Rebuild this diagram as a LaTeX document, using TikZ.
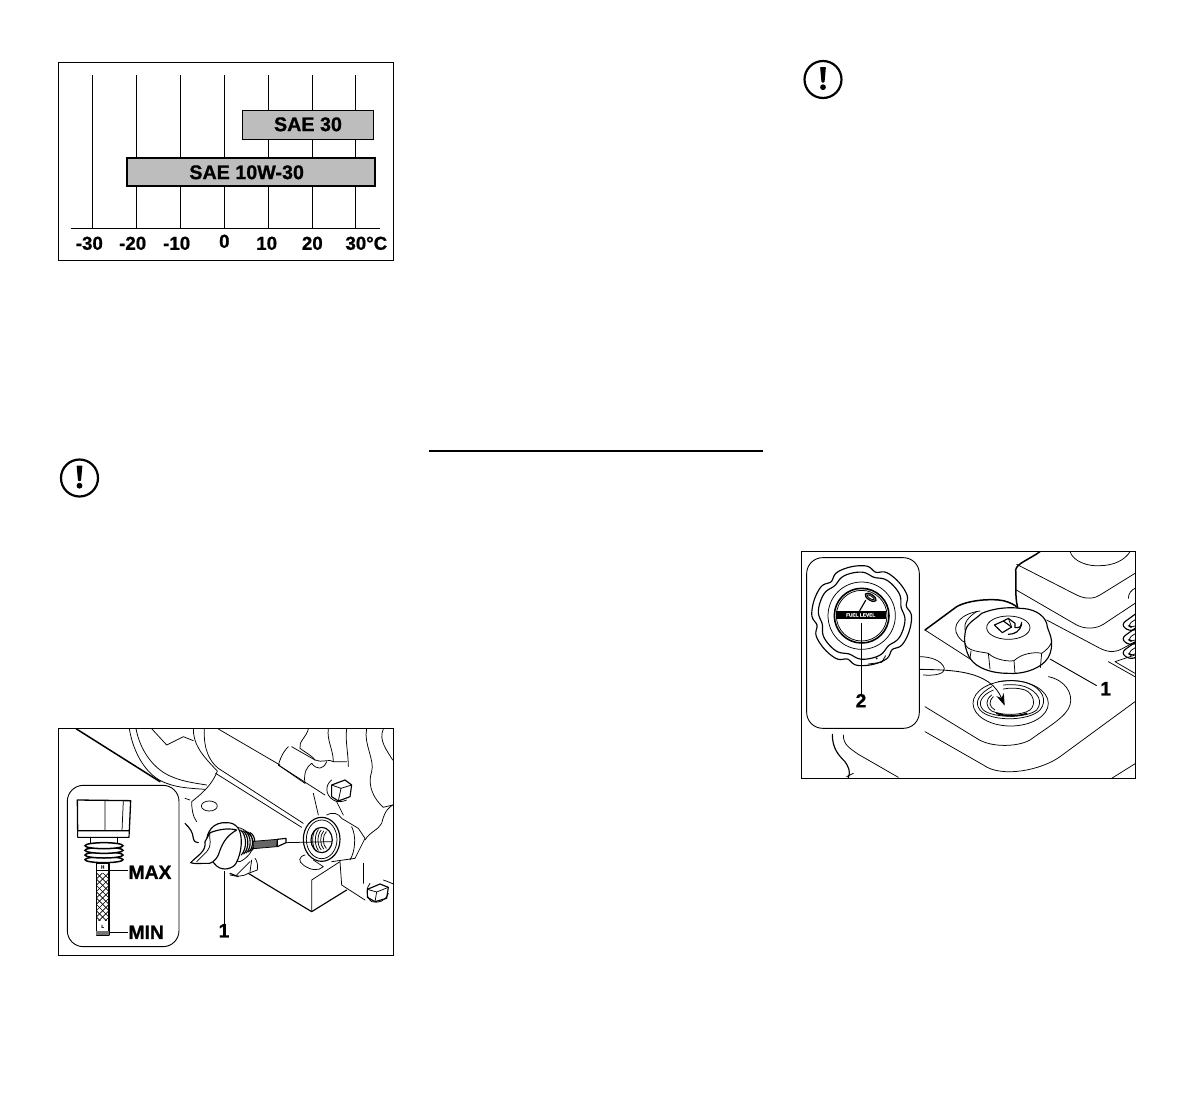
\documentclass[tikz,border=0pt]{standalone}
\usepackage{fontspec}
\setmainfont{Liberation Sans}[BoldFeatures={FakeBold=0.9}]
\usetikzlibrary{arrows.meta}
\definecolor{bargrey}{gray}{0.74}
\tikzset{
  frame/.style={draw=black,line width=1pt,fill=none},
  grid/.style={line width=1pt},
  bar/.style={draw=black,fill=bargrey,line width=1.5pt},
  barb/.style={draw=black,fill=bargrey,line width=1.9pt},
  lab/.style={font=\fontsize{18.7}{20}\selectfont\bfseries,inner sep=0pt},
  barlab/.style={font=\fontsize{19.7}{21}\selectfont\bfseries,inner sep=0pt},
  calllab/.style={font=\fontsize{19.3}{20}\selectfont\bfseries,inner sep=0pt},
  fine/.style={line width=0.75pt,line cap=round,line join=round},
  med/.style={line width=1.15pt,line cap=round,line join=round},
  heavy/.style={line width=1.8pt,line cap=round,line join=round},
  leader/.style={line width=0.9pt},
  inset/.style={draw=black,fill=white,line width=0.9pt,rounded corners=16pt},
}
\newcommand{\warnicon}[2]{%
  \draw[line width=2.2pt] (#1,#2) circle [radius=18.5];
  \fill[rounded corners=0.8pt] (#1-2.9,#2-12.5) -- (#1+2.9,#2-12.5) -- (#1+1.5,#2+3) -- (#1-1.5,#2+3) -- cycle;
  \fill (#1,#2+7.7) circle [radius=2.9];
}
\begin{document}
\begin{tikzpicture}[x=1pt,y=-1pt]
\useasboundingbox (0,0) rectangle (1192,1106);
\fill[white] (0,0) rectangle (1192,1106);

% ---------- chart ----------
\begin{scope}[shift={(50,55)},x=0.33333pt,y=-0.33333pt]
  \foreach \gx in {127,259,391,523,655,787,916} \draw[grid] (\gx,60) -- (\gx,520);
  \draw[grid] (62,520) -- (990,520);
  \draw[bar] (578,167) rectangle (970,253);
  \draw[barb] (231,309) rectangle (975,394);
  \node[barlab] (sae30) at (774,208) {SAE 30};
  \node[barlab] (sae10) at (590,352) {SAE 10W-30};
  \node[lab] (tm30) at (118,565) {-30};
  \node[lab] (tm20) at (248,565) {-20};
  \node[lab] (tm10) at (380,565) {-10};
  \node[lab] (t0) at (523,559) {0};
  \node[lab] (t10) at (650,565) {10};
  \node[lab] (t20) at (787,565) {20};
  \node[lab] (t30) at (949,565) {30°C};
  \draw[frame] (25,22) rectangle (1030,615);
\end{scope}

% ---------- warning icons and rule ----------
\warnicon{79.5}{478}
\warnicon{823}{79.5}
\draw[line width=1.9pt] (429,451) -- (763,451);

% ---------- oil figure ----------
\begin{scope}[shift={(50,720)},x=0.33333pt,y=-0.33333pt]
  \begin{scope}
  \clip (25,26) rectangle (1030,706);
  \draw[heavy,line width=1.5pt] (78,26) -- (330,185);
  % housing arcs
  \draw[fine] (238,26) .. controls (250,100) and (290,170) .. (350,190) .. controls (390,205) and (430,205) .. (465,208);
  \draw[fine] (258,26) .. controls (270,90) and (310,150) .. (370,172) .. controls (400,185) and (440,190) .. (470,195);
  \draw[fine] (305,26) -- (350,75) -- (400,50) -- (430,62);
  \draw[fine] (430,26) .. controls (430,70) and (450,100) .. (502,153) .. controls (490,185) and (470,210) .. (425,245) .. controls (425,265) and (428,290) .. (440,305);
  \draw[fine] (405,235) -- (420,240);
  \draw[fine] (463,27) .. controls (460,90) and (480,125) .. (505,145) -- (760,310);
  \draw[fine] (497,160) -- (755,322);
  \draw[fine] (505,27) -- (690,135);
  \draw[fine] (478,258) ellipse [x radius=24,y radius=15];
  \draw[med] (405,310) .. controls (420,325) and (428,335) .. (430,355) .. controls (432,365) and (438,368) .. (445,368);
  % tube
  \draw[fine] (715,80) .. controls (695,100) and (690,120) .. (685,135) -- (765,190);
  \draw[fine] (725,80) -- (795,120) .. controls (815,130) and (840,115) .. (850,125);
  \draw[fine] (685,135) -- (825,225);
  \draw[fine] (765,190) .. controls (760,160) and (770,140) .. (785,130) .. controls (800,150) and (820,150) .. (830,125);
  \draw[fine] (775,27) .. controls (770,50) and (745,65) .. (750,85) .. controls (770,100) and (790,110) .. (795,120);
  \draw[fine] (835,27) .. controls (830,60) and (850,90) .. (850,125) -- (890,125);
  \draw[fine] (890,27) .. controls (885,60) and (895,100) .. (895,140);
  \draw[fine] (790,220) -- (805,285);
  \draw[fine] (860,245) -- (880,285);
  % bolt upper
  \draw[fine] (845,180) .. controls (825,195) and (825,225) .. (850,240) .. controls (860,248) and (880,245) .. (890,240);
  \draw[med] (845,195) -- (885,180) -- (905,195) -- (900,230) -- (865,243) -- (845,230) -- cycle;
  \draw[fine] (845,195) -- (873,205) -- (905,195) (873,205) -- (865,243);
  % right wavy
  \draw[fine] (950,27) .. controls (940,70) and (975,120) .. (965,155) .. controls (950,200) and (975,240) .. (1000,262) -- (1028,255);
  \draw[fine] (1000,27) .. controls (985,60) and (1010,90) .. (1028,120);
  \draw[fine] (1028,255) .. controls (1005,270) and (1000,290) .. (995,310) .. controls (985,330) and (960,335) .. (945,360);
  % boss
  \draw[fine] (830,285) .. controls (850,275) and (865,280) .. (875,295) -- (925,325) -- (945,355) -- (915,415) -- (845,425);
  \draw[fine] (905,320) .. controls (920,350) and (915,395) .. (900,420);
  \draw[med,fill=white] (815,358) ellipse [x radius=55,y radius=66];
  \draw[fine] (815,358) ellipse [x radius=46,y radius=58];
  \draw[med] (815,360) ellipse [x radius=32,y radius=38];
  \foreach \k in {0,1,2,3,4} \draw[fine] (797+\k*8,327+\k*2) .. controls (785+\k*8,345) and (785+\k*8,375) .. (797+\k*8,393-\k*2);
  % axis and stem
  \draw[fine] (706,368) -- (845,365);
  \draw[fine] (765,405) .. controls (745,410) and (745,425) .. (760,435) .. controls (780,450) and (805,455) .. (820,440) -- (790,420);
  % plug
  \draw[fill=white,fine] (555,322) .. controls (575,320) and (605,340) .. (610,365) .. controls (612,385) and (600,410) .. (570,425) -- (545,420) -- (545,330) -- cycle;
  \foreach \k in {0,1,2,3,4} \draw[med] (572+\k*7,330+\k*2) .. controls (590+\k*7,345) and (592+\k*7,385) .. (574+\k*7,405-\k*3);
  \draw[fill=black!60,fine] (610,364) -- (682,358) -- (680,380) -- (610,386) -- cycle;
  \draw[fill=white,med] (682,358) -- (708,355) -- (708,368) -- (682,380) -- cycle;
  \draw[med,fill=white] (530,308) .. controls (490,305) and (468,335) .. (470,370) .. controls (470,390) and (480,420) .. (500,438) .. controls (520,455) and (550,445) .. (558,430) .. controls (575,400) and (580,350) .. (565,325) .. controls (555,312) and (545,308) .. (530,308) -- cycle;
  \draw[med,fill=white] (480,338) .. controls (515,325) and (540,325) .. (560,330) .. controls (525,350) and (515,375) .. (505,405) .. controls (495,425) and (480,433) .. (470,430) .. controls (450,430) and (430,432) .. (422,428) .. controls (440,408) and (470,395) .. (465,365) -- (480,338);
  \draw[fine] (480,338) .. controls (475,360) and (490,370) .. (470,395) .. controls (455,410) and (445,420) .. (440,425);
  % lower body
  \draw[med] (595,460) -- (785,575) -- (890,510);
  \draw[fine] (785,575) -- (785,480) -- (870,425);
  \draw[fine] (870,425) -- (875,495) -- (945,540);
  \draw[fine] (940,430) -- (940,490);
  \draw[fine] (540,465) .. controls (560,470) and (580,470) .. (595,460) -- (622,450) .. controls (625,435) and (620,420) .. (615,415);
  \draw[fine] (560,465) -- (600,425) (600,455) -- (605,420);
  \draw[med] (540,460) -- (565,470);
  % bolt lower
  \draw[fine] (960,490) .. controls (950,500) and (945,530) .. (965,545) .. controls (985,550) and (1005,545) .. (1015,520);
  \draw[med] (952,508) -- (990,492) -- (1015,502) -- (1010,535) -- (975,545) -- (952,532) -- cycle;
  \draw[fine] (952,508) -- (980,516) -- (1015,502) (980,516) -- (975,545);
  \draw[fine] (1000,480) .. controls (1015,485) and (1025,490) .. (1030,492);
  \end{scope}
  % leader
  \coordinate (oilA) at (522,452);
  \node[calllab] (oil1) at (522,632) {1};
  \draw[leader] (oilA) -- (oil1.north);
  % inset
  \draw[inset] (52,196) rectangle (387,680);
  \begin{scope}[shift={(30,180)}]
    \draw[med,line width=1.3pt] (52,60) -- (212,62) -- (208,152) -- (53,152) -- cycle;
    \draw[med] (53,152) -- (53,172) -- (207,172) -- (208,152);
    \draw[fine] (135,62) -- (135,150) (190,62) -- (186,152);
    \draw[med] (92,172) -- (92,190) (172,172) -- (172,190);
    \foreach \k in {3,2,1,0}
      \draw[line width=1.5pt,fill=white] (132,197+\k*14) ellipse [x radius=57,y radius=9];
    \begin{scope}
      \clip (109,280) rectangle (147,420);
      \foreach \k in {0,...,9} {
        \draw[line width=0.65pt] (109,240+\k*19) -- (147,278+\k*19);
        \draw[line width=0.65pt] (147,240+\k*19) -- (109,278+\k*19);
      }
    \end{scope}
    \draw[med,line width=1.4pt] (109,250) rectangle (147,465);
    \fill[black!55] (109,452) rectangle (147,465);
    \draw[fine] (109,272) -- (147,272);
    \node[font=\fontsize{4.5}{5}\selectfont\bfseries,inner sep=0pt] (markH) at (128,261) {H};
    \node[font=\fontsize{4.5}{5}\selectfont\bfseries,inner sep=0pt] (markL) at (128,439) {L};
    \node[calllab,anchor=west] (maxl) at (205,277) {MAX};
    \node[calllab,anchor=west] (minl) at (205,457) {MIN};
    \coordinate (maxA) at (147,272);
    \coordinate (minA) at (147,457);
    \draw[leader,line width=1.1pt] (maxA) -- (maxl.west |- maxA);
    \draw[leader,line width=1.1pt] (minA) -- (minl.west);
  \end{scope}
  \draw[frame] (25,26) rectangle (1030,706);
\end{scope}

% ---------- fuel figure ----------
\begin{scope}[shift={(795,545)},x=0.33333pt,y=-0.33333pt]
  \begin{scope}
  \clip (20,20) rectangle (1020,700);
  \draw[heavy,line width=1.5pt] (390,255) -- (485,185) .. controls (520,165) and (590,160) .. (625,167) .. controls (645,172) and (660,180) .. (668,188);
  \draw[heavy,line width=1.5pt] (668,188) .. controls (658,150) and (665,100) .. (662,75) .. controls (665,55) and (700,45) .. (735,20);
  \draw[fine] (665,58) -- (845,150) .. controls (875,165) and (900,160) .. (915,150) -- (1020,85);
  \draw[fine] (664,135) -- (845,240) .. controls (875,255) and (905,250) .. (925,238) -- (1020,175);
  \draw[fine] (755,225) -- (915,310) .. controls (945,325) and (965,320) .. (980,312) -- (1020,290);
  \draw[fine] (825,20) .. controls (835,50) and (880,65) .. (915,62) .. controls (955,62) and (990,45) .. (1005,20);
  \draw[fine] (1000,160) .. controls (1000,145) and (1010,135) .. (1020,130);
  \foreach \k in {0,1,2} {
    \draw[med,rounded corners=6pt] (1024,205+\k*42) -- (976,240+\k*42) -- (1010,262+\k*42) -- (1024,252+\k*42);
    \draw[fine,rounded corners=5pt] (1024,222+\k*42) -- (996,240+\k*42) -- (1012,250+\k*42) -- (1024,242+\k*42);
  }
  \draw[fine] (960,350) -- (1020,385) (960,350) -- (1020,330);
  % plate edges
  \draw[fine] (390,255) -- (530,345);
  \draw[fine] (760,395) .. controls (810,405) and (835,445) .. (825,480) .. controls (815,515) and (760,545) .. (705,585) .. controls (670,605) and (590,610) .. (545,580) -- (390,485);
  \draw[fine] (1020,470) -- (795,635) .. controls (740,675) and (620,700) .. (565,660) -- (390,560);
  \draw[fine] (1022,655) -- (950,700);
  \draw[fine] (373,335) .. controls (405,335) and (440,345) .. (448,370) .. controls (450,385) and (425,393) .. (385,390);
  \draw[fine] (940,350) -- (1020,395);
  % neck
  \draw[fine] (647,475) ellipse [x radius=113,y radius=68];
  \draw[fine] (590,425) .. controls (555,445) and (535,470) .. (555,495) .. controls (585,530) and (700,530) .. (735,495) .. controls (760,465) and (740,430) .. (700,415) .. controls (675,405) and (640,405) .. (610,410);
  \draw[fine] (595,435) .. controls (560,450) and (545,475) .. (565,495) .. controls (595,520) and (695,520) .. (725,495) .. controls (745,470) and (730,440) .. (690,425) .. controls (670,418) and (645,418) .. (625,420);
  \draw[fine] (590,450) .. controls (570,465) and (572,485) .. (590,498) .. controls (620,512) and (680,512) .. (705,495) .. controls (725,478) and (715,445) .. (690,435) .. controls (670,428) and (645,428) .. (625,432);
  \draw[fine] (595,455) .. controls (580,470) and (582,485) .. (600,495);
  \draw[heavy,line width=1.5pt] (605,505) .. controls (630,515) and (670,515) .. (695,505);
  % cap shadow
  \draw[fine] (555,198) .. controls (500,205) and (465,240) .. (490,275) .. controls (495,285) and (505,290) .. (515,295);
  \draw[fine] (545,200) .. controls (520,215) and (505,235) .. (510,255);
  % cap
  \draw[med,fill=white] (510,268) .. controls (510,235) and (540,225) .. (560,205) .. controls (595,190) and (640,185) .. (675,190) .. controls (710,190) and (745,205) .. (755,235) .. controls (755,250) and (770,270) .. (770,295) .. controls (770,315) and (765,335) .. (750,350) .. controls (725,375) and (680,388) .. (640,385) .. controls (590,385) and (545,370) .. (525,340) .. controls (515,325) and (505,290) .. (510,268) -- cycle;
  \draw[fine] (510,295) .. controls (515,320) and (560,320) .. (580,325) .. controls (600,345) and (640,350) .. (657,347) .. controls (680,325) and (720,320) .. (740,325) .. controls (755,315) and (765,305) .. (770,290);
  \draw[fine] (580,325) -- (585,372) (657,347) -- (660,386) (740,325) -- (736,368) (528,318) -- (525,340);
  \draw[fine] (640,248) ellipse [x radius=65,y radius=35];
  \draw[med] (598,240) -- (625,228) -- (650,246) -- (622,263) -- cycle;
  \draw[med] (625,228) -- (640,220) -- (660,235) -- (660,248) .. controls (678,250) and (680,240) .. (680,232);
  \draw[med] (640,268) .. controls (660,268) and (675,258) .. (680,238);
  \draw[fine] (640,220) -- (650,246);
  \end{scope}
  % arrow
  \coordinate (arrowS) at (373,373);
  \coordinate (arrowE) at (629,482);
  \draw[fine,line width=0.85pt,-{Stealth[length=12pt,width=8pt]}] (arrowS) .. controls (470,375) and (585,375) .. (arrowE);
  % leader 1
  \node[calllab] (fuel1) at (932,431) {1};
  \coordinate (fuelA) at (765,342);
  \draw[leader] (fuelA) -- (905,422);
  % lower left
  \draw[med] (112,568) .. controls (112,610) and (130,630) .. (150,650) .. controls (160,665) and (168,680) .. (160,698);
  \draw[fine] (145,570) .. controls (145,600) and (165,610) .. (190,628) -- (310,697);
  \draw[fine] (155,695) -- (175,685);
  % inset
  \draw[inset] (35,38) rectangle (373,550);
  \begin{scope}[shift={(200,212)}]
    \draw[med] plot[domain=0:360,samples=241,smooth] (\x:{150-13*abs(cos(3*(\x+72)))^14});
    \draw[med] plot[domain=0:360,samples=241,smooth] (\x:{131-10*abs(cos(3*(\x+72)))^6});
    \draw[fine] (0,0) circle [radius=101];
    \draw[med,line width=1.6pt] (0,0) circle [radius=82];
    \draw[fine] (0,0) circle [radius=76];
    \fill[black] (-78,-15) rectangle (72,10);
    \node[font=\fontsize{4.8}{5}\selectfont\bfseries,text=white,inner sep=0pt] (level) at (-3,-2) {FUEL LEVEL};
    \begin{scope}[shift={(27,-55)},rotate=-32]
      \draw[med,fill=black!50] (0,0) ellipse [x radius=19,y radius=9];
      \draw[fine,fill=white] (0,0) ellipse [x radius=12,y radius=4];
    \end{scope}
    \draw[med] (12,-46) -- (-6,-15);
    \fill (45,128) circle [radius=3];
    \draw[fine] (20,145) -- (60,140) -- (72,120);
  \end{scope}
  \node[calllab] (fuel2) at (198,467) {2};
  \coordinate (fuelB) at (200,235);
  \draw[leader] (fuelB) -- (fuel2.north -| fuelB);
  \draw[frame] (20,20) rectangle (1020,700);
\end{scope}
\end{tikzpicture}
\end{document}
